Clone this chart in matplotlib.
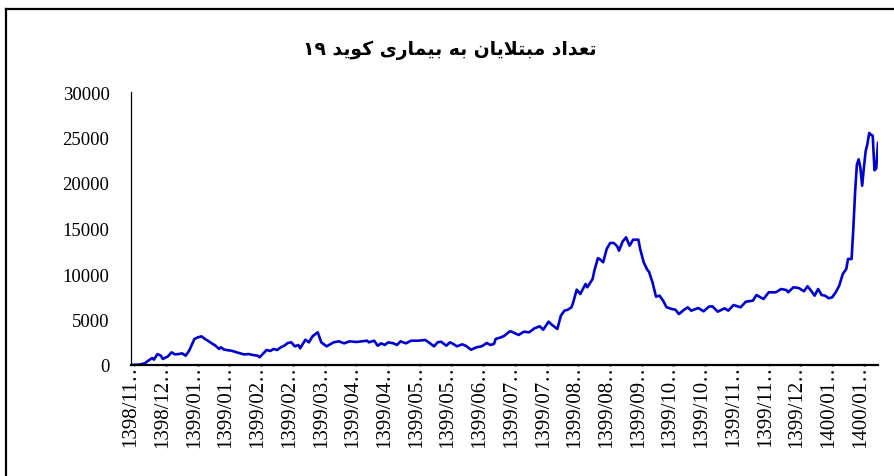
import matplotlib
matplotlib.use("Agg")
import matplotlib.pyplot as plt
from matplotlib.lines import Line2D

# ---------------- data ----------------
TITLE = "تعداد مبتلایان به بیماری کوید ۱۹"

days = [0, 5, 8, 9, 12, 13, 15, 17, 18, 21, 23, 25, 27, 29, 31, 33, 36, 38, 40, 42,
        45, 48, 50, 51, 53, 57, 60, 64, 67, 69, 72, 73, 77, 79, 81, 83, 85, 87, 89, 91,
        93, 95, 96, 99, 101, 103, 106, 108, 110, 111, 115, 118, 121, 124, 128, 131, 134, 135, 138, 140,
        142, 144, 146, 149, 151, 153, 156, 159, 163, 167, 169, 172, 174, 176, 179, 181, 183, 185, 188, 190,
        193, 196, 199, 202, 204, 206, 207, 210, 212, 215, 216, 220, 223, 226, 229, 232, 234, 237, 239, 242,
        244, 246, 248, 250, 251, 253, 255, 258, 259, 262, 263, 265, 266, 268, 270, 272, 274, 276, 277, 279,
        281, 283, 285, 288, 289, 291, 293, 294, 296, 298, 300, 302, 304, 307, 309, 311, 314, 316, 318, 322,
        325, 328, 330, 333, 337, 339, 342, 346, 349, 353, 355, 359, 362, 366, 369, 372, 373, 376, 379, 382,
        384, 386, 388, 390, 392, 394, 396, 398, 400, 402, 404, 406, 407, 409, 410, 411, 412, 413, 414, 415,
        416, 417, 418, 419, 420, 421, 422, 423, 424]

cases = [0, 50, 200, 360, 770, 590, 1200, 1020, 660, 950, 1390, 1170, 1200, 1280, 1020, 1570, 2860, 3040, 3150, 2860,
         2490, 2120, 1760, 1940, 1680, 1570, 1390, 1170, 1200, 1100, 1020, 850, 1650, 1540, 1760, 1650, 1940, 2120, 2420, 2490,
         2050, 2200, 1830, 2780, 2490, 3150, 3590, 2490, 2200, 2050, 2490, 2600, 2380, 2600, 2530, 2600, 2670, 2490, 2670, 2120,
         2380, 2200, 2490, 2380, 2200, 2600, 2380, 2670, 2670, 2750, 2490, 2050, 2490, 2560, 2120, 2490, 2310, 2050, 2270, 2120,
         1680, 1940, 2050, 2420, 2200, 2310, 2860, 3040, 3220, 3700, 3660, 3300, 3660, 3590, 4030, 4250, 3880, 4760, 4400, 3960,
         5420, 5970, 6080, 6340, 6890, 8280, 7800, 8900, 8540, 9450, 10360, 11730, 11650, 11290, 12750, 13410, 13410, 13040, 12560, 13550,
         14030, 13110, 13770, 13770, 12750, 11290, 10470, 10250, 9090, 7510, 7620, 7070, 6340, 6150, 6080, 5600, 6080, 6340, 5970, 6260,
         5900, 6410, 6450, 5860, 6230, 5970, 6590, 6340, 6960, 7070, 7690, 7250, 7990, 7990, 8350, 8240, 7990, 8540, 8460, 8100,
         8650, 8170, 7620, 8350, 7690, 7620, 7330, 7440, 7990, 8720, 10000, 10550, 11650, 11650, 15000, 19000, 22000, 22600, 21700, 19700,
         21700, 23500, 24300, 25500, 25300, 25200, 21400, 21600, 24400]

tick_days = [0, 18, 36, 54, 72, 90, 108, 126, 144, 162, 180, 198,
             216, 234, 252, 270, 288, 306, 324, 342, 360, 378, 396, 414]
tick_labels = ["1398/11…", "1398/12…", "1399/01…", "1399/01…", "1399/02…", "1399/02…",
               "1399/03…", "1399/04…", "1399/04…", "1399/05…", "1399/05…", "1399/06…",
               "1399/07…", "1399/07…", "1399/08…", "1399/08…", "1399/09…", "1399/10…",
               "1399/10…", "1399/11…", "1399/11…", "1399/12…", "1400/01…", "1400/01…"]
y_ticks = [0, 5000, 10000, 15000, 20000, 25000, 30000]


# ---------------- minimal Arabic/Persian shaping for display ----------------
FORMS = {  # iso, fin, ini, med ; None => right-joining only
    "ا": ("\uFE8D", "\uFE8E", None, None),
    "ب": ("\uFE8F", "\uFE90", "\uFE91", "\uFE92"),
    "ت": ("\uFE95", "\uFE96", "\uFE97", "\uFE98"),
    "ع": ("\uFEC9", "\uFECA", "\uFECB", "\uFECC"),
    "د": ("\uFEA9", "\uFEAA", None, None),
    "م": ("\uFEE1", "\uFEE2", "\uFEE3", "\uFEE4"),
    "ل": ("\uFEDD", "\uFEDE", "\uFEDF", "\uFEE0"),
    "ی": ("\uFEEF", "\uFEF0", "\uFEF3", "\uFEF4"),
    "ن": ("\uFEE5", "\uFEE6", "\uFEE7", "\uFEE8"),
    "ه": ("\uFEE9", "\uFEEA", "\uFEEB", "\uFEEC"),
    "ر": ("\uFEAD", "\uFEAE", None, None),
    "ک": ("\uFB8E", "\uFB8F", "\uFB90", "\uFB91"),
    "و": ("\uFEED", "\uFEEE", None, None),
}


def shape_word(w):
    out = []
    i = 0
    prev_dual = False
    while i < len(w):
        c = w[i]
        if c not in FORMS:
            out.append(c)
            prev_dual = False
            i += 1
            continue
        if c == "ل" and i + 1 < len(w) and w[i + 1] == "ا":
            out.append("\uFEFC" if prev_dual else "\uFEFB")
            prev_dual = False
            i += 2
            continue
        iso, fin, ini, med = FORMS[c]
        dual = ini is not None
        nxt = dual and i + 1 < len(w) and w[i + 1] in FORMS
        if prev_dual and nxt:
            g = med
        elif prev_dual:
            g = fin
        elif nxt:
            g = ini
        else:
            g = iso
        out.append(g)
        prev_dual = dual
        i += 1
    s = "".join(out)
    if any(ch in FORMS for ch in w):
        s = s[::-1]
    return s


def visual(text):
    return " ".join(shape_word(w) for w in text.split(" ")[::-1])


# ---------------- figure ----------------
W, H = 895, 477
fig = plt.figure(figsize=(W / 100, H / 100), dpi=100)
ax = fig.add_axes([131 / W, 1 - 366 / H, (878 - 131) / W, (366 - 93) / H])

ax.plot(days, cases, color="#0000CC", lw=1.9, solid_joinstyle="round")

ax.set_xlim(0, 424)
ax.set_ylim(0, 30000)
ax.set_yticks(y_ticks)
ax.set_yticklabels([str(v) for v in y_ticks], family="Liberation Serif", fontsize=13.5)
ax.set_xticks(tick_days)
ax.set_xticklabels(tick_labels, family="Liberation Serif", fontsize=15, rotation=90)
ax.tick_params(axis="both", length=0)
ax.tick_params(axis="y", pad=15.5)
ax.tick_params(axis="x", pad=-5)

for s in ("top", "right"):
    ax.spines[s].set_visible(False)
ax.spines["left"].set_linewidth(0.9)
ax.spines["bottom"].set_linewidth(1.6)

fig.text(450 / W, 1 - 50 / H, visual(TITLE), ha="center", va="center",
         fontsize=13.5, fontweight="bold", family=["DejaVu Sans"])

# outer chart border (cropped on the right and bottom)
fig.add_artist(Line2D([6 / W, 6 / W], [0, 1 - 10 / H], transform=fig.transFigure,
                      color="black", lw=1.6))
fig.add_artist(Line2D([6 / W, 1], [1 - 10 / H, 1 - 10 / H], transform=fig.transFigure,
                      color="black", lw=1.6))

fig.savefig("out.png", dpi=100)
